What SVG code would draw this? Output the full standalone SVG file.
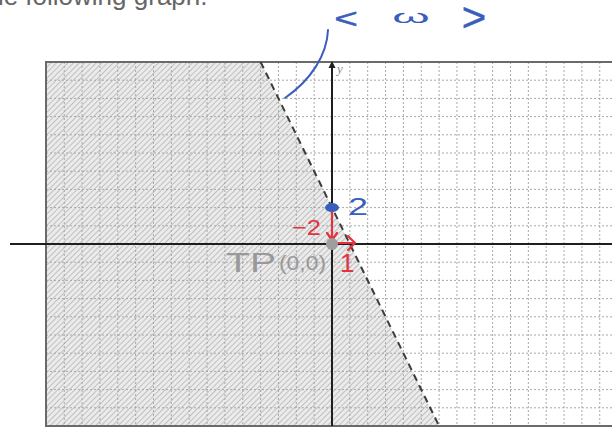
<svg xmlns="http://www.w3.org/2000/svg" width="612" height="429" viewBox="0 0 612 429">
  <defs>
    <pattern id="hatch" patternUnits="userSpaceOnUse" width="4" height="4" patternTransform="rotate(45)">
      <rect width="4" height="4" fill="#ebebeb"/>
      <line x1="0" y1="0" x2="0" y2="4" stroke="#b5b5b5" stroke-width="1.6"/>
    </pattern>
    <style>
      .grid { stroke: #a8a8a8; stroke-width: 1; stroke-dasharray: 2 2; fill: none; }
      .axis { stroke: #1e1e1e; stroke-width: 2; fill: none; }
      .border { stroke: #6a6a6a; stroke-width: 2; fill: none; }
      .bound { stroke: #3c3c3c; stroke-width: 2; stroke-dasharray: 7 5; fill: none; }
      .blue { fill: #3b5dbb; font-family: "Liberation Sans", Arial, sans-serif; }
      .hand { stroke: #3b5dbb; stroke-width: 0.5; stroke-linejoin: round; }
      .red { fill: #e2333f; font-family: "Liberation Sans", Arial, sans-serif; }
      .redline { stroke: #e2333f; stroke-width: 2.2; fill: none; stroke-linecap: round; stroke-linejoin: round; }
      .tp { fill: #999999; font-family: "Liberation Sans", Arial, sans-serif; }
    </style>
  </defs>
  <rect width="612" height="429" fill="#ffffff"/>

  <text x="-18" y="4.5" font-family="'Liberation Sans', Arial, sans-serif" font-size="26" fill="#666666">the following graph.</text>

  <g id="region">
    <polygon points="46,62 260.6,62 439.1,426 46,426" fill="url(#hatch)"/>
  </g>

  <g id="grid">
    <path class="grid" d="M64.25,62V426 M82.1,62V426 M99.95,62V426 M117.8,62V426 M135.65,62V426 M153.5,62V426 M171.35,62V426 M189.2,62V426 M207.05,62V426 M224.9,62V426 M242.75,62V426 M260.6,62V426 M278.45,62V426 M296.3,62V426 M314.15,62V426 M349.85,62V426 M367.7,62V426 M385.55,62V426 M403.4,62V426 M421.25,62V426 M439.1,62V426 M456.95,62V426 M474.8,62V426 M492.65,62V426 M510.5,62V426 M528.35,62V426 M546.2,62V426 M564.05,62V426 M581.9,62V426 M599.75,62V426"/>
    <path class="grid" d="M46,80.2H612 M46,98.4H612 M46,116.6H612 M46,134.8H612 M46,153H612 M46,171.2H612 M46,189.4H612 M46,207.6H612 M46,225.8H612 M46,262.2H612 M46,280.4H612 M46,298.6H612 M46,316.8H612 M46,335H612 M46,353.2H612 M46,371.4H612 M46,389.6H612 M46,407.8H612"/>
  </g>

  <g id="frame">
    <path class="border" d="M612,62H46V426H612"/>
  </g>

  <g id="connectors">
    <line class="bound" x1="260.6" y1="62" x2="439.1" y2="426"/>
    <line class="axis" x1="10" y1="244" x2="612" y2="244"/>
    <line class="axis" x1="332" y1="66" x2="332" y2="426"/>
    <polygon points="332,61 328.5,68 335.5,68" fill="#1e1e1e"/>
    <path d="M328,30 C327,55 311,80 285,98" stroke="#3b5dbb" stroke-width="2" fill="none" stroke-linecap="round"/>
    <path class="redline" d="M332,210 V240 M327,233 L332,240 L337,233"/>
    <path class="redline" d="M338,243 H355 M348,236 L355,243 L348,250"/>
  </g>

  <g id="y-label">
    <text x="337" y="73" font-family="'Liberation Serif', serif" font-style="italic" font-size="13" fill="#8a8a8a">y</text>
  </g>

  <g id="annotation">
    <text class="blue hand" x="0" y="0" font-size="30" text-anchor="middle" transform="translate(346 27.5) scale(1.35 0.95)">&lt;</text>
    <text class="blue" x="0" y="0" font-size="24" text-anchor="middle" transform="translate(411 22.5) scale(2 0.75)">ω</text>
    <text class="blue hand" x="0" y="0" font-size="38" text-anchor="middle" transform="translate(474 30.5) scale(1.1 1.05)">&gt;</text>
  </g>

  <g id="point-tp">
    <circle cx="332" cy="244" r="6" fill="#9e9e9e"/>
    <text class="tp" x="226" y="272" font-size="28" textLength="50" lengthAdjust="spacingAndGlyphs">TP</text>
    <text class="tp" x="279" y="270" font-size="20" textLength="47" lengthAdjust="spacingAndGlyphs">(0,0)</text>
  </g>

  <g id="point-intercept">
    <ellipse cx="332" cy="207.6" rx="7" ry="4.5" fill="#3b5dbb"/>
    <text class="blue" x="348" y="215" font-size="24" textLength="20" lengthAdjust="spacingAndGlyphs">2</text>
  </g>

  <g id="slope-labels">
    <text class="red" x="292" y="235" font-size="22" textLength="29" lengthAdjust="spacingAndGlyphs">−2</text>
    <text class="red" x="340" y="272" font-size="26">1</text>
  </g>
</svg>
